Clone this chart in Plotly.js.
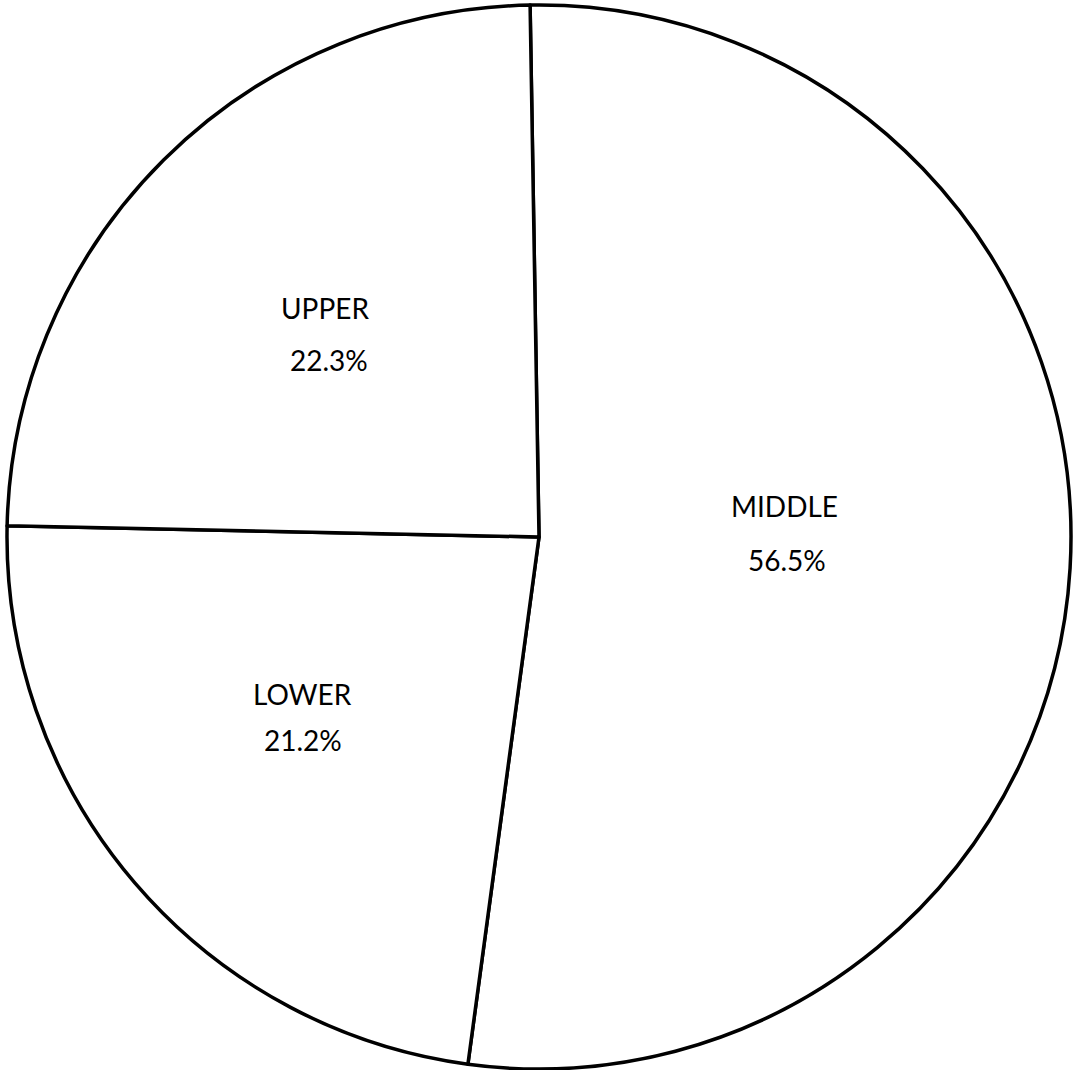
<!DOCTYPE html>
<html>
<head>
<meta charset="utf-8">
<script src="https://cdn.plot.ly/plotly-3.0.1.min.js"></script>
<style>html,body{margin:0;padding:0;background:#fff;}#chart{width:1081px;height:1070px;}</style>
</head>
<body>
<div id="chart"></div>
<script>
// Slice labels and printed percentages
const categories = ["MIDDLE", "LOWER", "UPPER"];
const printedPercent = ["56.5%", "21.2%", "22.3%"];
// Angular shares of the slices as drawn in the picture (percent of circle)
const sliceShare = [52.4, 23.2, 24.4];

// Label placement (paper fractions) for name line and percent line of each slice
const namePos = [[0.7312, 0.5291], [0.2773, 0.3524], [0.2989, 0.7148]];
const pctPos  = [[0.7331, 0.4784], [0.2782, 0.3092], [0.3026, 0.6664]];

const trace = {
  type: "pie",
  labels: categories,
  values: sliceShare,
  textinfo: "none",
  sort: false,
  direction: "clockwise",
  rotation: -0.96,
  hoverinfo: "none",
  marker: {
    colors: ["#ffffff", "#ffffff", "#ffffff"],
    line: { color: "#000000", width: 3.5 }
  },
  showlegend: false
};

const labelFont = { family: "Lato, 'DejaVu Sans', sans-serif", size: 28, color: "#000000" };
const annotations = [];
categories.forEach((c, i) => {
  annotations.push({ text: c, xref: "paper", yref: "paper", x: namePos[i][0], y: namePos[i][1],
    xanchor: "center", yanchor: "middle", showarrow: false, font: labelFont });
  annotations.push({ text: printedPercent[i], xref: "paper", yref: "paper", x: pctPos[i][0], y: pctPos[i][1],
    xanchor: "center", yanchor: "middle", showarrow: false, font: labelFont });
});

const layout = {
  width: 1081,
  height: 1070,
  margin: { l: 7, r: 10, t: 5, b: 1 },
  paper_bgcolor: "#ffffff",
  plot_bgcolor: "#ffffff",
  showlegend: false,
  annotations: annotations
};

Plotly.newPlot("chart", [trace], layout, { staticPlot: true, displayModeBar: false });
</script>
</body>
</html>
